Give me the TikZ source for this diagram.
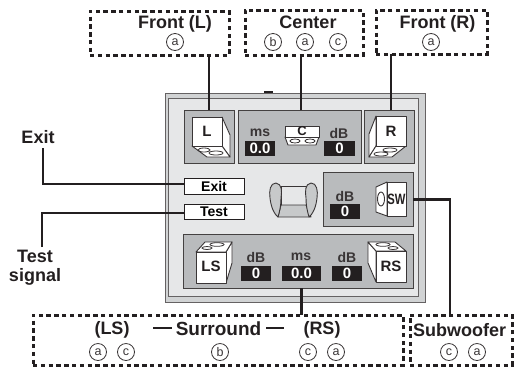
\documentclass[tikz,border=0pt]{standalone}
\usepackage{fontspec}
\setmainfont{Liberation Sans}
\definecolor{ink}{HTML}{231F20}
\definecolor{pbg}{HTML}{E6E7E8}
\definecolor{pframe}{HTML}{D1D3D4}
\definecolor{pgray}{HTML}{B9BBBD}
\newcommand{\fs}[1]{\fontsize{#1}{#1}\selectfont}
\tikzset{
  box/.style={inner sep=0,outer sep=0,anchor=north west},
  dashbox/.style={box,draw=ink,line width=3pt,dash pattern=on 4.4pt off 3.4pt},
  panelbox/.style={box,draw=ink!85,line width=0.9pt,fill=pgray},
  btn/.style={box,draw=ink,line width=1pt,fill=white,font=\bfseries\fs{14}},
  val/.style={box,fill=ink,text=white,font=\bfseries\fs{15},minimum height=15pt},
  lab/.style={inner sep=0,font=\bfseries\fs{14},text=ink!90},
  big/.style={inner sep=0,font=\bfseries\fs{18},text=ink},
  circ/.style={circle,draw=ink!90,line width=0.8pt,minimum size=17pt,inner sep=0,font=\fs{12.5},text=ink!90},
  conn/.style={draw=ink,line width=2.8pt},
  face/.style={draw=ink!90,line width=0.9pt,fill=white,line join=round},
  spk/.style={inner sep=0,font=\bfseries\fs{15},text=ink}
}
\begin{document}
\begin{tikzpicture}[x=1pt,y=-1pt]
\useasboundingbox (0,0) rectangle (516,368);
% panel
\fill[ink] (264,91) rectangle (273,94);
\node[box,draw=ink!70,line width=0.9pt,fill=pframe,minimum width=260pt,minimum height=209pt] (frame) at (165,93) {};
\node[box,draw=ink!70,line width=0.9pt,fill=pbg,minimum width=250pt,minimum height=198pt] (inner) at (168,98) {};
% sub panels
\node[panelbox,minimum width=50pt,minimum height=53pt] (lp) at (184,110) {};
\node[panelbox,minimum width=123pt,minimum height=53pt] (cp) at (238,110) {};
\node[panelbox,minimum width=50pt,minimum height=53pt] (rp) at (364,110) {};
\node[panelbox,minimum width=90pt,minimum height=54pt] (swp) at (323,172) {};
\node[panelbox,line width=1pt,minimum width=230pt,minimum height=54pt] (bp) at (183,234) {};
% buttons
\node[btn,minimum width=60pt,minimum height=16pt] (exitb) at (184,178) {Exit};
\node[btn,minimum width=60pt,minimum height=15pt] (testb) at (184,204) {Test};
% dashed boxes
\node[dashbox,minimum width=139pt,minimum height=44pt] (fl) at (90,11) {};
\node[dashbox,minimum width=118pt,minimum height=45pt] (ce) at (245,10) {};
\node[dashbox,minimum width=111pt,minimum height=44pt] (fr) at (376,10) {};
\node[dashbox,minimum width=370pt,minimum height=50pt] (su) at (33,315) {};
\node[dashbox,minimum width=102pt,minimum height=50pt] (sw) at (410,315) {};
% top labels
\node[big] (tfl) at (175,23.5) {Front (L)};
\node[big] (tce) at (308,22) {Center};
\node[big] (tfr) at (437.5,23.5) {Front (R)};
\node[circ] (c1) at (175,42) {a};
\node[circ] (c2) at (273,42) {b};
\node[circ] (c3) at (305,42) {a};
\node[circ] (c4) at (338,42) {c};
\node[circ] (c5) at (431,42) {a};
% bottom labels
\node[big] (tls) at (112,330) {(LS)};
\node[inner sep=0,font=\bfseries\fs{19},text=ink] (tsu) at (218.5,329) {Surround};
\node[big] (trs) at (322,330) {(RS)};
\node[big] (tsw) at (459.5,330) {Subwoofer};
\coordinate (d1a) at (153,328); \coordinate (d1b) at (172,328);
\coordinate (d2a) at (266,328); \coordinate (d2b) at (284,328);
\draw[ink,line width=1.2pt] (d1a) -- (d1b) (d2a) -- (d2b);
\node[circ] (c6) at (98,352) {a};
\node[circ] (c7) at (126,352) {c};
\node[circ] (c8) at (220,352) {b};
\node[circ] (c9) at (308,352) {c};
\node[circ] (c10) at (336,352) {a};
\node[circ] (c11) at (449,352) {c};
\node[circ] (c12) at (477,352) {a};
% left labels
\node[big] (texit) at (38,137) {Exit};
\node[big] (ttest) at (35,256) {Test};
\node[big] (tsig) at (35,277) {signal};
% readouts
\node[lab] (m1) at (260,133) {ms};
\node[val,minimum width=30pt] (v1) at (245,141) {0.0};
\node[lab] (d1) at (339,133) {dB};
\node[val,minimum width=31pt] (v2) at (324,141) {0};
\node[lab] (d2) at (345,196) {dB};
\node[val,minimum width=30pt] (v3) at (330,204) {0};
\node[lab] (d3) at (256,257) {dB};
\node[val,minimum width=30pt] (v4) at (241,266) {0};
\node[lab] (m2) at (301,257) {ms};
\node[val,minimum width=39pt] (v5) at (282,266) {0.0};
\node[lab] (d4) at (347,257) {dB};
\node[val,minimum width=30pt] (v6) at (332,266) {0};
% L speaker
\draw[face] (222,117) -- (230,135) -- (230,157) -- (222,146) -- cycle;
\draw[face] (192,146) -- (222,146) -- (230,157) -- (207,157) -- cycle;
\draw[ink!90,line width=0.8pt] (204,150) ellipse (6 and 2) (216,153) ellipse (7 and 2);
\node[face,box,minimum width=30pt,minimum height=29pt] (ls1) at (192,117) {};
\node[spk] (tl) at (207,131) {L};
% R speaker
\draw[face] (376,116) -- (369,134) -- (369,157) -- (376,146) -- cycle;
\draw[face] (376,146) -- (406,146) -- (392,157) -- (369,157) -- cycle;
\draw[ink!90,line width=0.8pt] (390,150) ellipse (7 and 2) (381,154) ellipse (7 and 2);
\node[face,box,minimum width=30pt,minimum height=30pt] (rs1) at (376,116) {};
\node[spk] (tr) at (391,131) {R};
% C speaker
\draw[face] (285,137) -- (319,137) -- (316,145) -- (288,145) -- cycle;
\draw[ink!90,line width=0.8pt] (295,141) ellipse (5 and 2) (310,141) ellipse (5 and 2);
\node[face,box,minimum width=34pt,minimum height=11pt] (cs1) at (285,126) {};
\node[spk,font=\bfseries\fs{13}] (tc) at (302,131.5) {C};
% SW speaker
\draw[face] (376,187) -- (387,182) -- (387,216) -- (376,212) -- cycle;
\draw[ink!90,line width=0.9pt] (381,199) ellipse (3.5 and 7);
\node[face,box,minimum width=19pt,minimum height=34pt] (sws) at (387,182) {};
\node[spk] (tsws) at (396.5,199) {\fs{15}\scalebox{0.75}[1]{SW}};
% LS speaker
\draw[face] (226,252) -- (232,242) -- (232,263) -- (226,283) -- cycle;
\draw[face] (196,252) -- (205,242) -- (232,242) -- (226,252) -- cycle;
\draw[ink!90,line width=0.8pt] (217,244.5) ellipse (7 and 1.8) (207,248) ellipse (5 and 1.5);
\node[face,box,minimum width=30pt,minimum height=31pt] (lss) at (196,252) {};
\node[spk] (tlss) at (211,266) {LS};
% RS speaker
\draw[face] (376,251) -- (368,242) -- (368,263) -- (376,282) -- cycle;
\draw[face] (368,242) -- (395,242) -- (406,251) -- (376,251) -- cycle;
\draw[ink!90,line width=0.8pt] (383,244.5) ellipse (7 and 1.8) (393,248) ellipse (5 and 1.5);
\node[face,box,minimum width=30pt,minimum height=31pt] (rss) at (376,251) {};
\node[spk] (trss) at (391,266) {RS};
% seat
\draw[face,fill=pbg] (281,186) rectangle (306,205);
\draw[face,fill=pgray!80] (281,205) -- (306,205) -- (311,217) -- (278,217) -- cycle;
\draw[face,fill=pgray!80] (276,183) .. controls (270,183) and (269,191) .. (270,198) .. controls (271,207) and (274,214) .. (278,217) .. controls (280,210) and (281,205) .. (281,198) .. controls (282,191) and (282,184) .. (276,183) -- cycle;
\draw[face,fill=pgray!80] (311,183) .. controls (317,183) and (318,191) .. (317,198) .. controls (316,207) and (313,214) .. (309,217) .. controls (307,210) and (306,205) .. (306,198) .. controls (305,191) and (305,184) .. (311,183) -- cycle;
% connectors
\coordinate (jexit) at (43,184);
\coordinate (jtest) at (42,213);
\coordinate (jsw) at (450,199.5);
\coordinate (texitend) at (43,148);
\coordinate (ttestend) at (42,247);
\path[conn] (lp.north) -- (lp.north |- fl.south);
\path[conn] (cp.north) ++(1.5,0) coordinate (cn) (cn) -- (cn |- ce.south);
\path[conn] (rp.north) ++(2,0) coordinate (rn) (rn) -- (rn |- fr.south);
\path[conn] (texitend) -- (jexit) -- (jexit -| exitb.west);
\path[conn] (ttestend) -- (jtest) -- (jtest -| testb.west);
\path[conn] (jsw -| swp.east) -- (jsw) -- (jsw |- sw.north);
\path[conn] (v5.south |- bp.south) -- (v5.south |- su.north);
\end{tikzpicture}
\end{document}
